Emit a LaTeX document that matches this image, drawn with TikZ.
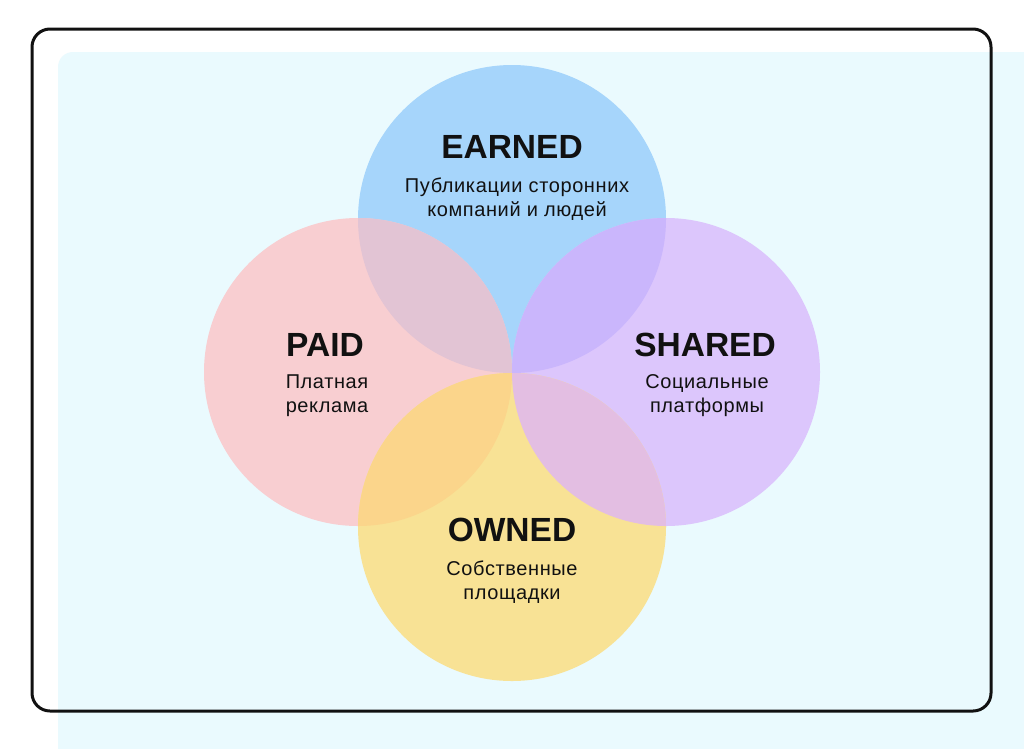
\documentclass[tikz,border=0pt]{standalone}
\usepackage{fontspec}
\setmainfont{Liberation Sans}
\newfontfamily\subfont[LetterSpace=3]{Liberation Sans}
\definecolor{bgcyan}{HTML}{EAFAFE}
\definecolor{cE}{HTML}{A6D5FB}
\definecolor{cP}{HTML}{F8CED1}
\definecolor{cS}{HTML}{DCC6FC}
\definecolor{cO}{HTML}{F8E295}
\definecolor{cEP}{HTML}{E2C4D4}
\definecolor{cES}{HTML}{CAB6FC}
\definecolor{cPO}{HTML}{FBD58B}
\definecolor{cSO}{HTML}{E3BEE2}
\definecolor{ink}{HTML}{111111}
\tikzset{
  ring/.style={circle, inner sep=0pt, minimum size=308pt},
  title/.style={font=\fontsize{33.5}{38}\selectfont\bfseries, text=ink, inner sep=0pt},
  sub/.style={font=\subfont\fontsize{20}{24}\selectfont, text=ink, align=center, inner sep=0pt},
}
\begin{document}
\begin{tikzpicture}[x=1pt,y=-1pt]
\useasboundingbox (0,0) rectangle (1024,748);
\fill[white] (0,0) rectangle (1024,748);
\fill[bgcyan, rounded corners=15pt] (58,52) rectangle (1070,800);
\node[ring, fill=cE] (E) at (512,219) {};
\node[ring, fill=cP] (P) at (358,372) {};
\node[ring, fill=cS] (S) at (666,372) {};
\node[ring, fill=cO] (O) at (512,527) {};
\begin{scope}
  \clip (E.center) circle (154);
  \fill[cEP] (P.center) circle (154);
  \fill[cES] (S.center) circle (154);
\end{scope}
\begin{scope}
  \clip (O.center) circle (154);
  \fill[cPO] (P.center) circle (154);
  \fill[cSO] (S.center) circle (154);
\end{scope}
\draw[line width=3pt, rounded corners=18pt, ink] (32,29) rectangle (991,711);
\node[title] (tE) at (512,147) {EARNED};
\node[sub] (sE) at (517,199) {Публикации сторонних\\компаний и людей};
\node[title] (tP) at (325,345) {PAID};
\node[sub] (sP) at (327,396) {Платная\\реклама};
\node[title] (tS) at (705,345) {SHARED};
\node[sub] (sS) at (707,396) {Социальные\\платформы};
\node[title] (tO) at (512,530) {OWNED};
\node[sub] (sO) at (512,582) {Собственные\\площадки};
\end{tikzpicture}
\end{document}
